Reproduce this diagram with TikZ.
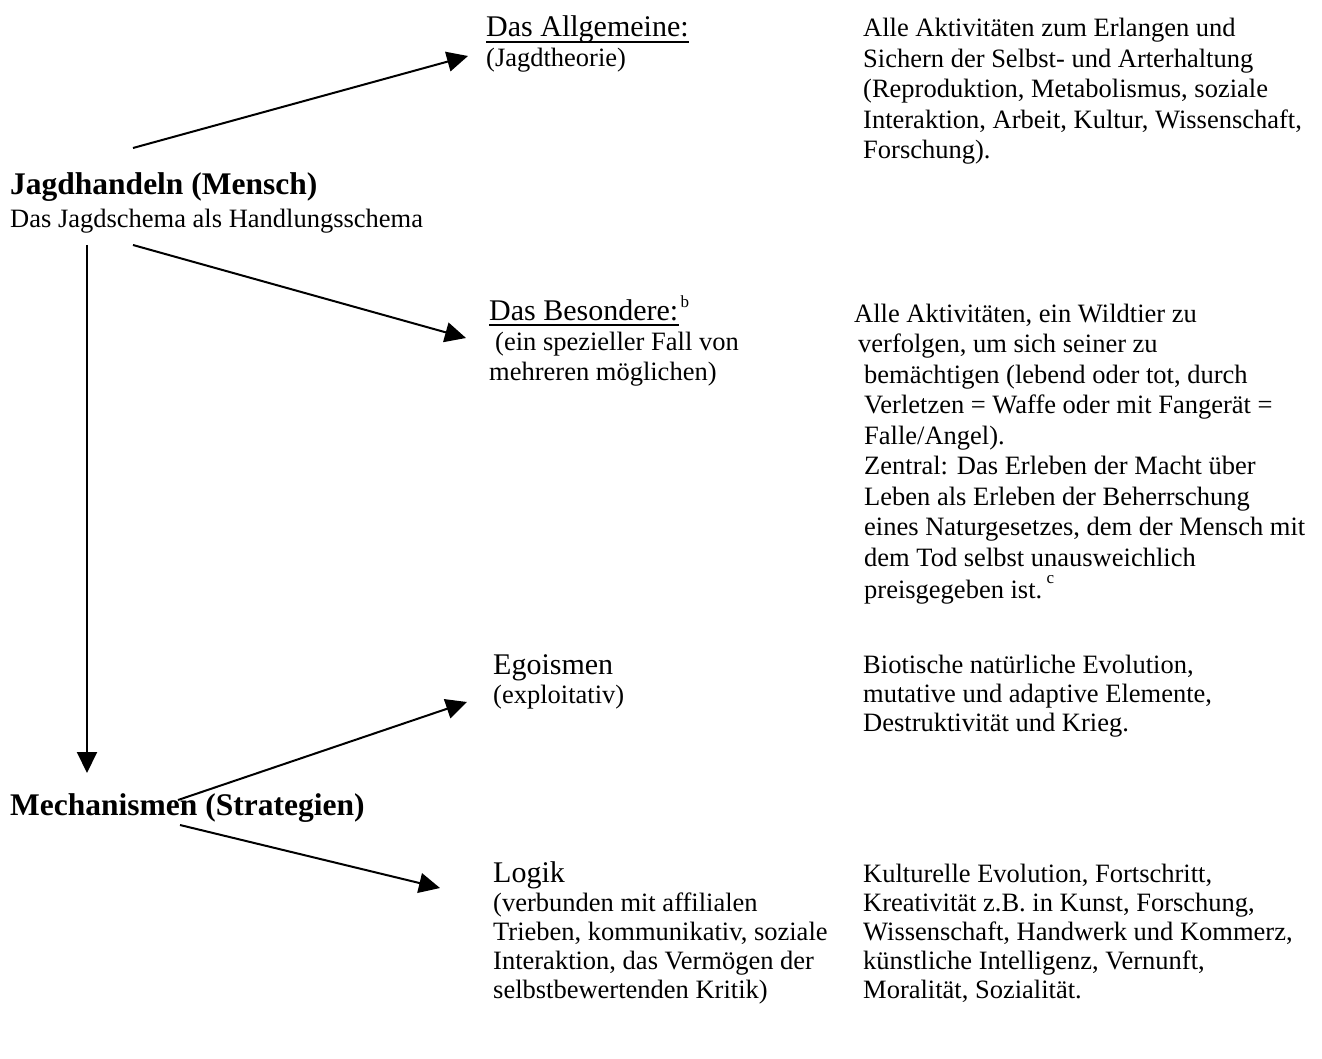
\documentclass[tikz,border=0pt]{standalone}
\usepackage{fontspec}
\setmainfont{Liberation Serif}
\usetikzlibrary{arrows.meta}
\newcommand{\mylines}[1]{\begin{tabular}[t]{@{}l@{}}#1\end{tabular}}
\begin{document}
\begin{tikzpicture}[x=1pt,y=-1pt,
  txt/.style={anchor=base west, inner sep=0pt, font=\fontsize{26.5}{30.5}\selectfont},
  txtb/.style={txt, font=\fontsize{26.5}{29}\selectfont},
  ttl/.style={anchor=base west, inner sep=0pt, font=\fontsize{30}{34}\selectfont},
  hd/.style={anchor=base west, inner sep=0pt, font=\bfseries\fontsize{31.5}{36}\selectfont},
  arr/.style={line width=2pt, -{Triangle[length=21pt,width=20pt]}},
  ul/.style={line width=2pt}]
\useasboundingbox (0,0) rectangle (1322,1059);

% left headings
\node[hd] (jh) at (10,195) {Jagdhandeln (Mensch)};
\node[txt] (js) at (10,228) {Das Jagdschema als Handlungsschema};
\node[hd] (mech) at (10,815) {Mechanismen (Strategien)};

% Das Allgemeine
\node[ttl] (allg) at (486,37) {Das Allgemeine:};
\draw[ul] ([yshift=-5pt]allg.base west) -- ([yshift=-5pt]allg.base east);
\node[txt] (jt) at (486,67) {(Jagdtheorie)};
\node[txt] (allgtxt) at (863,37) {\mylines{Alle Aktivitäten zum Erlangen und\\Sichern der Selbst- und Arterhaltung\\(Reproduktion, Metabolismus, soziale\\Interaktion, Arbeit, Kultur, Wissenschaft,\\Forschung).}};

% Das Besondere
\node[ttl] (bes) at (489,320) {Das Besondere:};
\draw[ul] ([yshift=-5pt]bes.base west) -- ([yshift=-5pt]bes.base east);
\node[anchor=base west, inner sep=0pt, font=\fontsize{17}{17}\selectfont] (supb) at ([xshift=2pt,yshift=13pt]bes.base east) {b};
\node[txt] (bessub) at (489,350) {\mylines{\hspace*{6pt}(ein spezieller Fall von\\mehreren möglichen)}};
\node[txt] (bestxt) at (854,322) {\mylines{Alle Aktivitäten, ein Wildtier zu\\
\hspace*{4pt}verfolgen, um sich seiner zu\\
\hspace*{10pt}bemächtigen (lebend oder tot, durch\\
\hspace*{10pt}Verletzen = Waffe oder mit Fangerät =\\
\hspace*{10pt}Falle/Angel).\\
\hspace*{10pt}Zentral: Das Erleben der Macht über\\
\hspace*{10pt}Leben als Erleben der Beherrschung\\
\hspace*{10pt}eines Naturgesetzes, dem der Mensch mit\\
\hspace*{10pt}dem Tod selbst unausweichlich\\
\hspace*{10pt}preisgegeben ist.\,\raisebox{15pt}{\fontsize{17}{17}\selectfont c}}};

% Egoismen
\node[ttl] (ego) at (493,674) {Egoismen};
\node[txtb] (expl) at (493,703) {(exploitativ)};
\node[txtb] (egotxt) at (863,673) {\mylines{Biotische natürliche Evolution,\\mutative und adaptive Elemente,\\Destruktivität und Krieg.}};

% Logik
\node[ttl] (log) at (493,882) {Logik};
\node[txtb] (logsub) at (493,911) {\mylines{(verbunden mit affilialen\\Trieben, kommunikativ, soziale\\Interaktion, das Vermögen der\\selbstbewertenden Kritik)}};
\node[txtb] (logtxt) at (863,882) {\mylines{Kulturelle Evolution, Fortschritt,\\Kreativität z.B. in Kunst, Forschung,\\Wissenschaft, Handwerk und Kommerz,\\künstliche Intelligenz, Vernunft,\\Moralität, Sozialität.}};

% arrow end points
\coordinate (a1s) at (133,148);
\coordinate (a1e) at (468,56);
\coordinate (a2s) at (133,245);
\coordinate (a2e) at (466,338);
\coordinate (a3s) at (87,245);
\coordinate (a3e) at (87,773);
\coordinate (a4s) at (178,800);
\coordinate (a4e) at (467,702);
\coordinate (a5s) at (180,825);
\coordinate (a5e) at (440,888);

\draw[arr] (a1s) -- (a1e);
\draw[arr] (a2s) -- (a2e);
\draw[arr] (a3s) -- (a3e);
\draw[arr] (a4s) -- (a4e);
\draw[arr] (a5s) -- (a5e);
\end{tikzpicture}
\end{document}
